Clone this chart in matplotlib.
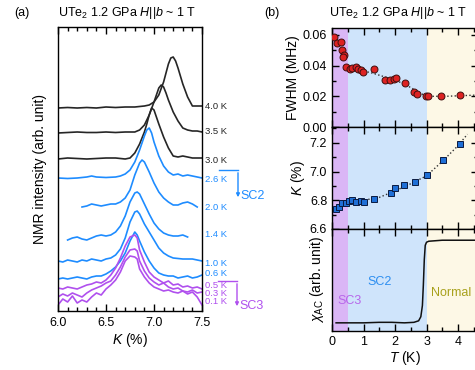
import matplotlib
matplotlib.use("Agg")
import matplotlib.pyplot as plt
from matplotlib.ticker import MultipleLocator, NullLocator

plt.rcParams['font.family'] = ['Liberation Sans', 'DejaVu Sans']
plt.rcParams['mathtext.fontset'] = 'custom'
plt.rcParams['mathtext.rm'] = 'Liberation Sans'
plt.rcParams['mathtext.it'] = 'Liberation Sans:italic'
plt.rcParams['mathtext.bf'] = 'Liberation Sans:bold'

# ---------------- data: NMR spectra (K in %, intensity above own baseline) ----------------
k_40 = [6.0, 6.1, 6.2, 6.3, 6.4, 6.5, 6.6, 6.7, 6.8, 6.9, 6.95, 7.0, 7.05, 7.1, 7.125, 7.15, 7.175, 7.2, 7.225, 7.25, 7.3, 7.35, 7.4, 7.45, 7.5]
i_40 = [0, 0.5, 0, 0.5, 0, 1, 0.5, 1, 1, 2, 3, 6, 13, 26, 35, 44, 50, 51, 47, 40, 24, 11, 2, 2, 2]

k_35 = [6.0, 6.1, 6.2, 6.3, 6.4, 6.5, 6.6, 6.7, 6.8, 6.85, 6.9, 6.95, 7.0, 7.025, 7.05, 7.075, 7.1, 7.125, 7.15, 7.2, 7.25, 7.3, 7.35, 7.4, 7.45, 7.5]
i_35 = [0, 0.5, 1, 0.5, 0.5, 1, 0.5, 1, 1, 3, 8, 18, 31, 38, 45, 48, 46, 40, 33, 21, 12, 5, 3, 2, 2, 1]

k_30 = [6.0, 6.1, 6.2, 6.3, 6.4, 6.5, 6.6, 6.7, 6.75, 6.8, 6.85, 6.9, 6.925, 6.95, 6.975, 7.0, 7.025, 7.05, 7.1, 7.15, 7.2, 7.25, 7.3, 7.35, 7.4, 7.5]
i_30 = [0, 1, 0.5, 0, 0.5, 1, 1, 0, 1, 6, 15, 27, 35, 44, 51, 49, 42, 35, 22, 11, 3, 2, 3, 2, 1, 1]

k_26 = [6.0, 6.1, 6.2, 6.3, 6.35, 6.4, 6.5, 6.6, 6.65, 6.7, 6.75, 6.8, 6.85, 6.9, 6.925, 6.95, 6.975, 7.0, 7.05, 7.1, 7.15, 7.2, 7.25, 7.3, 7.35, 7.4, 7.45, 7.5]
i_26 = [0, -0.5, 0, 1, 2, 1, 0.5, 1, 2, 4, 8, 16, 28, 42, 48, 50, 45, 36, 22, 12, 6, 3, 4, 2, 3, 2, 1, 0]

k_20 = [6.25, 6.3, 6.35, 6.4, 6.45, 6.5, 6.55, 6.6, 6.65, 6.7, 6.75, 6.8, 6.85, 6.875, 6.9, 6.95, 7.0, 7.05, 7.1, 7.15, 7.2, 7.25, 7.3, 7.35, 7.4, 7.45]
i_20 = [0, 1, 3, 2, 1, 2, 3, 3, 5, 9, 17, 32, 44, 47, 45, 35, 24, 15, 9, 5, 2, 2, 4, 5, 3, 0]

k_14 = [6.1, 6.15, 6.2, 6.25, 6.3, 6.35, 6.4, 6.45, 6.5, 6.55, 6.6, 6.65, 6.7, 6.75, 6.8, 6.825, 6.85, 6.9, 6.95, 7.0, 7.05, 7.1, 7.15, 7.2, 7.25, 7.3, 7.35]
i_14 = [0, 2, 3, 1, 0, 2, 4, 5, 4, 5, 8, 14, 24, 38, 47, 48, 46, 36, 26, 17, 11, 7, 5, 4, 4, 5, 3]

k_10 = [6.0, 6.05, 6.1, 6.15, 6.2, 6.25, 6.3, 6.35, 6.4, 6.45, 6.5, 6.55, 6.6, 6.65, 6.7, 6.75, 6.8, 6.825, 6.85, 6.9, 6.95, 7.0, 7.05, 7.1, 7.15, 7.2, 7.3, 7.4, 7.5]
i_10 = [1, 0, 2, 1, 0, 2, 1, 3, 2, 1, 3, 4, 7, 13, 24, 40, 50, 51, 48, 38, 30, 22, 14, 9, 6, 4, 3, 3, 1]

k_low = [6.0, 6.05, 6.1, 6.15, 6.2, 6.25, 6.3, 6.35, 6.4, 6.45, 6.5, 6.55, 6.6, 6.65, 6.7, 6.75, 6.8, 6.825, 6.85, 6.9, 6.95, 7.0, 7.05, 7.1, 7.15, 7.2, 7.25, 7.3, 7.35, 7.4, 7.45, 7.5]
i_06 = [0, 1, 0, 1, 2, 1, 0, 2, 3, 3, 5, 8, 12, 18, 26, 38, 47, 44, 38, 27, 18, 11, 6, 4, 3, 3, 1, 2, 3, 1, 2, 4]
i_05 = [2, 1, 3, 2, 1, 3, 5, 6, 8, 7, 10, 15, 22, 32, 44, 53, 55, 52, 40, 28, 18, 13, 10, 7, 9, 5, 6, 3, 4, 2, 3, 1]
i_03 = [0, 3, 1, 4, 2, 0, 4, 7, 9, 11, 14, 16, 22, 30, 40, 47, 48, 46, 36, 26, 19, 15, 12, 14, 10, 8, 9, 6, 5, 7, 4, 5]
i_01 = [0, 6, 3, 9, 2, 5, 3, 8, 12, 10, 16, 20, 25, 33, 44, 49, 48, 46, 36, 28, 22, 18, 16, 14, 15, 13, 12, 14, 11, 13, 8, 0]

temp_labels = ["4.0 K", "3.5 K", "3.0 K", "2.6 K", "2.0 K", "1.4 K", "1.0 K", "0.6 K", "0.5 K", "0.3 K", "0.1 K"]
baselines = [203, 178, 152, 133, 104, 71, 49, 32, 21, 14, 6]

# ---------------- data: panel (b) ----------------
T_fwhm = [0.06, 0.17, 0.28, 0.33, 0.38, 0.35, 0.45, 0.56, 0.65, 0.75, 0.84, 0.91, 0.99, 1.33, 1.68, 1.84, 1.97, 2.04, 2.32, 2.60, 2.71, 2.97, 3.06, 3.45, 4.06]
fwhm = [0.0589, 0.0546, 0.0557, 0.0500, 0.0470, 0.0455, 0.0390, 0.0376, 0.0383, 0.0390, 0.0376, 0.0372, 0.0360, 0.0380, 0.0307, 0.0307, 0.0310, 0.0318, 0.0289, 0.0225, 0.0212, 0.0202, 0.0202, 0.0202, 0.0209]
T_fwhm_guide = [0.9, 1.3, 1.7, 2.0, 2.3, 2.6, 2.9, 3.2, 3.6, 4.1, 4.6]
fwhm_guide = [0.0370, 0.0350, 0.0325, 0.0305, 0.0280, 0.0245, 0.0210, 0.0200, 0.0200, 0.0204, 0.0208]

T_k = [0.12, 0.22, 0.33, 0.43, 0.54, 0.65, 0.75, 0.91, 1.02, 1.33, 1.86, 1.99, 2.29, 2.63, 3.03, 3.52, 4.06]
k_shift = [6.737, 6.751, 6.779, 6.783, 6.797, 6.802, 6.790, 6.795, 6.790, 6.807, 6.849, 6.884, 6.907, 6.930, 6.977, 7.077, 7.193]
T_k_guide = [0.0, 0.3, 0.6, 1.0, 1.5, 2.0, 2.5, 3.0, 3.5, 4.0, 4.3]
k_guide = [6.70, 6.76, 6.785, 6.80, 6.82, 6.865, 6.915, 6.97, 7.07, 7.18, 7.26]

T_chi = [0.13, 0.5, 1.0, 1.5, 1.9, 2.3, 2.6, 2.75, 2.82, 2.87, 2.9, 2.93, 2.96, 3.0, 3.07, 3.5, 4.0, 4.6]
chi = [0.08, 0.08, 0.08, 0.085, 0.085, 0.08, 0.085, 0.10, 0.14, 0.25, 0.45, 0.70, 0.84, 0.87, 0.88, 0.89, 0.89, 0.89]

phase_names = ["SC3", "SC2", "Normal"]
phase_bounds = [0.0, 0.5, 3.0, 5.0]

# ---------------- style ----------------
c_black = "#262626"
c_blue = "#1e8cff"
c_purple = "#b050ee"
bg_colors = ["#dab6f6", "#cfe4fb", "#fdf8e6"]
txt_colors = ["#b766ea", "#2d8ef0", "#a8a11c"]

fig = plt.figure(figsize=(4.75, 3.7), dpi=100)
W, H = 475.0, 370.0

def ax_at(x0, y0, x1, y1):
    return fig.add_axes([x0 / W, 1 - y1 / H, (x1 - x0) / W, (y1 - y0) / H])

# ---------------- panel (a) ----------------
axa = ax_at(58, 27, 202, 311)
curves_k = [k_40, k_35, k_30, k_26, k_20, k_14, k_10, k_low, k_low, k_low, k_low]
curves_i = [i_40, i_35, i_30, i_26, i_20, i_14, i_10, i_06, i_05, i_03, i_01]
colors = [c_black] * 3 + [c_blue] * 5 + [c_purple] * 3
for kk, ii, b, col in zip(curves_k, curves_i, baselines, colors):
    axa.plot(kk, [b + v for v in ii], color=col, lw=1.2, solid_joinstyle='round')
axa.set_xlim(6.0, 7.5)
axa.set_ylim(0, 284)
axa.xaxis.set_major_locator(MultipleLocator(0.5))
axa.xaxis.set_minor_locator(MultipleLocator(0.1))
axa.xaxis.set_major_formatter(matplotlib.ticker.FormatStrFormatter('%.1f'))
axa.yaxis.set_major_locator(NullLocator())
axa.tick_params(axis='x', which='both', direction='in', top=True, labelsize=9, pad=4)
axa.tick_params(axis='x', which='major', length=5, width=1)
axa.tick_params(axis='x', which='minor', length=3, width=1)
for s in axa.spines.values():
    s.set_linewidth(1.0)
axa.set_xlabel("$K$ (%)", fontsize=10, labelpad=2)
axa.set_ylabel("NMR intensity (arb. unit)", fontsize=10, labelpad=8)

label_y = [204, 179, 150, 131, 103, 76, 47, 37, 25, 17, 9]
for lab, ly, col in zip(temp_labels, label_y, colors):
    axa.text(1.02, ly, lab, transform=axa.get_yaxis_transform(), fontsize=6.8,
             color=col, va='center', ha='left', clip_on=False)

# brackets SC2 / SC3 (figure pixel coordinates)
def bracket(x0, x1, y0, y1, col, name, ty):
    fig.add_artist(plt.Line2D([x0 / W, x1 / W], [1 - y0 / H, 1 - y0 / H], color=col, lw=1.0))
    fig.add_artist(matplotlib.patches.FancyArrowPatch((x1 / W, 1 - y0 / H), (x1 / W, 1 - y1 / H),
                   arrowstyle='-|>', mutation_scale=5, color=col, lw=1.0,
                   transform=fig.transFigure))
    fig.text((x1 + 2) / W, 1 - ty / H, name, color=col, fontsize=9, va='center', ha='left')

bracket(219, 238, 170, 200, c_blue, "SC2", 196)
bracket(218, 237, 281, 309, c_purple, "SC3", 306)

fig.text(127 / W, 1 - 13 / H, "UTe$_2$ 1.2 GPa $H$||$b$ ~ 1 T", fontsize=9, ha='center', va='center')
fig.text(14 / W, 1 - 13 / H, "(a)", fontsize=9, ha='left', va='center')

# ---------------- panel (b) ----------------
x_max = 4.65
xr = 332 + x_max * 31.5
ax1 = ax_at(332, 28, xr, 127)
ax2 = ax_at(332, 127, xr, 229)
ax3 = ax_at(332, 229, xr, 331)

for ax in (ax1, ax2, ax3):
    for lo, hi, bg in zip(phase_bounds[:-1], phase_bounds[1:], bg_colors):
        ax.axvspan(lo, hi, color=bg, lw=0, zorder=0)
    ax.set_xlim(0, x_max)
    ax.xaxis.set_major_locator(MultipleLocator(1))
    ax.xaxis.set_minor_locator(MultipleLocator(0.5))
    ax.tick_params(axis='both', which='both', direction='in', top=True, right=True, labelsize=9)
    ax.tick_params(axis='both', which='major', length=5, width=1)
    ax.tick_params(axis='both', which='minor', length=3, width=1)
    for s in ax.spines.values():
        s.set_linewidth(1.0)

ax1.plot(T_fwhm_guide, fwhm_guide, ls=':', color='#333333', lw=1.0, zorder=2)
ax1.plot(T_fwhm, fwhm, 'o', ms=5, mfc='#dd2222', mec='#401010', mew=0.7, zorder=3)
ax1.set_ylim(0, 0.0645)
ax1.yaxis.set_major_locator(MultipleLocator(0.02))
ax1.yaxis.set_minor_locator(MultipleLocator(0.01))
ax1.yaxis.set_major_formatter(matplotlib.ticker.FormatStrFormatter('%.2f'))
ax1.tick_params(labelbottom=False)
ax1.set_ylabel("FWHM (MHz)", fontsize=10, labelpad=2)

ax2.plot(T_k_guide, k_guide, ls=':', color='#333333', lw=1.0, zorder=2)
ax2.plot(T_k, k_shift, 's', ms=4.2, mfc='#1f6fd6', mec='#0a1a40', mew=0.7, zorder=3)
ax2.set_ylim(6.6, 7.31)
ax2.yaxis.set_major_locator(MultipleLocator(0.2))
ax2.yaxis.set_minor_locator(MultipleLocator(0.1))
ax2.yaxis.set_major_formatter(matplotlib.ticker.FormatStrFormatter('%.1f'))
ax2.tick_params(labelbottom=False)
ax2.set_ylabel("$K$ (%)", fontsize=10, labelpad=2)

ax3.plot(T_chi, chi, color='#111111', lw=1.1, zorder=2)
ax3.set_ylim(0, 1)
ax3.yaxis.set_major_locator(NullLocator())
ax3.yaxis.set_minor_locator(NullLocator())
ax3.set_ylabel("$\\chi_{\\rm AC}$ (arb. unit)", fontsize=10, labelpad=4)
ax3.set_xlabel("$T$ (K)", fontsize=10, labelpad=1)

phase_text_T = [0.56, 1.5, 3.77]
phase_text_y = [0.29, 0.48, 0.37]
for name, tx, ty, col in zip(phase_names, phase_text_T, phase_text_y, txt_colors):
    ax3.text(tx, ty, name, color=col, fontsize=9, ha='center', va='center', zorder=4)

fig.text(398 / W, 1 - 13 / H, "UTe$_2$ 1.2 GPa $H$||$b$ ~ 1 T", fontsize=9, ha='center', va='center')
fig.text(264 / W, 1 - 13 / H, "(b)", fontsize=9, ha='left', va='center')

fig.savefig("out.png", dpi=100)
